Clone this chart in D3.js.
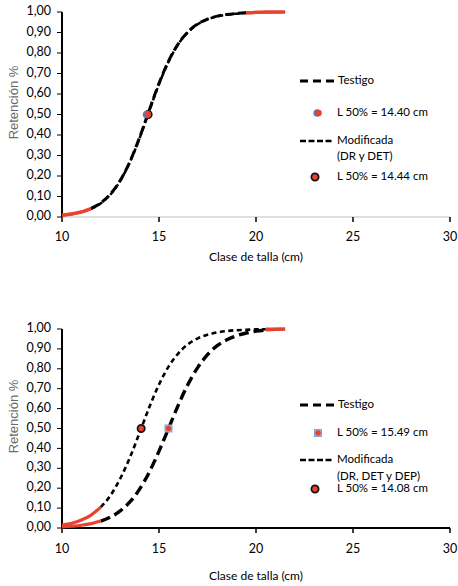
<!DOCTYPE html>
<html><head><meta charset="utf-8">
<script src="https://cdn.jsdelivr.net/npm/d3@7"></script>
<style>body{margin:0;background:#fff;} svg{display:block;font-family:Lato,"Open Sans",sans-serif;}</style>
</head><body>
<svg id="c" width="458" height="586"></svg>
<script>
// ---- data ----
const sizes = [10,10.5,11,11.5,12,12.5,13,13.5,14,14.5,15,15.5,16,16.5,17,17.5,18,18.5,19,19.5,20,20.5,21,21.5];
const xTicks = [10,15,20,25,30];
const yTicks = [0,0.1,0.2,0.3,0.4,0.5,0.6,0.7,0.8,0.9,1.0];

const topTestigo =    [0.009,0.015,0.025,0.042,0.069,0.112,0.178,0.270,0.388,0.522,0.652,0.762,0.846,0.904,0.942,0.965,0.980,0.988,0.993,0.996,0.998,0.999,0.999,1.000];
const topModificada = [0.008,0.014,0.024,0.040,0.067,0.110,0.176,0.268,0.385,0.518,0.648,0.759,0.844,0.902,0.940,0.964,0.979,0.987,0.992,0.996,0.998,0.999,1.000,1.000];
const topL50 = [14.40, 14.44];

const botTestigo =    [0.005,0.009,0.014,0.022,0.035,0.055,0.086,0.131,0.195,0.281,0.386,0.502,0.619,0.723,0.807,0.871,0.916,0.946,0.966,0.980,0.989,0.995,0.998,0.999];
const botModificada = [0.015,0.024,0.040,0.065,0.105,0.164,0.248,0.354,0.479,0.607,0.721,0.812,0.878,0.924,0.953,0.971,0.983,0.990,0.994,0.996,0.998,0.999,1.000,1.000];
const botL50 = [15.49, 14.08];

const topLegend = ["Testigo","L 50% = 14.40 cm","Modificada","(DR y DET)","L 50% = 14.44 cm"];
const botLegend = ["Testigo","L 50% = 15.49 cm","Modificada","(DR, DET y DEP)","L 50% = 14.08 cm"];

const RED = "#e8432e", BLUE = "#4f81bd";
const svg = d3.select("#c");
const x = d3.scaleLinear().domain([10,30]).range([62,450]);
const LF = 11.5;

function chart(cfg){
  const y = d3.scaleLinear().domain([0,1]).range([cfg.y0, cfg.y1]);
  const g = svg.append("g");
  // x axis
  g.append("line").attr("x1",x(10)).attr("x2",x(30)).attr("y1",y(0)).attr("y2",y(0))
    .attr("stroke",cfg.xAxisColor).attr("stroke-width",cfg.xAxisWidth);
  g.selectAll(".xt").data(xTicks).join("line").attr("x1",d=>x(d)).attr("x2",d=>x(d))
    .attr("y1",y(0)).attr("y2",y(0)+5).attr("stroke","#000").attr("stroke-width",1.5);
  g.selectAll(".xl").data(xTicks).join("text").attr("x",d=>x(d)).attr("y",cfg.tickLabelY)
    .attr("text-anchor","middle").attr("dominant-baseline","middle").attr("font-size",12.5).text(d=>d);
  g.append("text").attr("x",256).attr("y",cfg.xTitleY).attr("text-anchor","middle")
    .attr("dominant-baseline","middle").attr("font-size",12).text("Clase de talla (cm)");
  // y axis
  g.append("line").attr("x1",x(10)).attr("x2",x(10)).attr("y1",y(0)).attr("y2",y(1))
    .attr("stroke","#000").attr("stroke-width",2);
  g.selectAll(".yt").data(yTicks).join("line").attr("x1",x(10)-5).attr("x2",x(10))
    .attr("y1",d=>y(d)).attr("y2",d=>y(d)).attr("stroke","#000").attr("stroke-width",1);
  g.selectAll(".yl").data(yTicks).join("text").attr("x",51).attr("y",d=>y(d))
    .attr("text-anchor","end").attr("dominant-baseline","middle").attr("font-size",12.5)
    .text(d=>d.toFixed(2).replace(".",","));
  const yc = (cfg.y0+cfg.y1)/2 - 12;
  g.append("text").attr("transform",`translate(15,${yc}) rotate(-90)`).attr("text-anchor","middle")
    .attr("dominant-baseline","middle").attr("font-size",13).attr("fill","#6b6b6b")
    .style("font-family","'Liberation Sans',Arial,sans-serif").text("Retención %");

  const line = d3.line().x(d=>x(d[0])).y(d=>y(d[1])).curve(d3.curveMonotoneX);
  function series(vals, dash, w){
    const pts = sizes.map((s,i)=>[s,vals[i]]);
    const mid = pts.filter(p=>p[0]>=cfg.lowEnd && p[0]<=cfg.highStart);
    g.append("path").attr("d",line(mid)).attr("fill","none").attr("stroke","#000")
      .attr("stroke-width",w).attr("stroke-dasharray",dash);
    const lo = pts.filter(p=>p[0]<=cfg.lowEnd), hi = pts.filter(p=>p[0]>=cfg.highStart);
    [lo,hi].forEach(seg=>g.append("path").attr("d",line(seg)).attr("fill","none")
      .attr("stroke",RED).attr("stroke-width",3.2).attr("stroke-linecap","butt"));
  }
  series(cfg.testigo, cfg.tDash, cfg.tWidth);
  series(cfg.modif, cfg.mDash, cfg.mWidth);

  // L50 markers
  function testMarker(gg, cx, cy){
    if(cfg.square){
      gg.append("rect").attr("x",cx-3.5).attr("y",cy-3.5).attr("width",7).attr("height",7).attr("fill","#9dbde0").attr("stroke","#7ea6d3").attr("stroke-width",1);
      gg.append("circle").attr("cx",cx).attr("cy",cy).attr("r",2.8).attr("fill",RED);
    } else {
      gg.append("circle").attr("cx",cx-0.8).attr("cy",cy).attr("r",3.8).attr("fill",BLUE);
      gg.append("circle").attr("cx",cx+0.5).attr("cy",cy).attr("r",3.3).attr("fill",RED);
    }
  }
  function modMarker(gg, cx, cy){
    gg.append("circle").attr("cx",cx).attr("cy",cy).attr("r",3.6).attr("fill",RED).attr("stroke","#111").attr("stroke-width",1.8);
  }
  if(cfg.square){
    testMarker(g, x(cfg.l50[0]), y(0.5));
    modMarker(g, x(cfg.l50[1]), y(0.5));
  } else {
    modMarker(g, x(cfg.l50[1]), y(0.5));
    testMarker(g, x(cfg.l50[0]), y(0.5));
  }

  // legend
  const L = cfg.leg, t = cfg.legendText;
  g.append("line").attr("x1",300).attr("x2",337).attr("y1",L[0]).attr("y2",L[0])
    .attr("stroke","#000").attr("stroke-width",3).attr("stroke-dasharray","8,5");
  g.append("text").attr("x",338).attr("y",L[0]).attr("dominant-baseline","middle").attr("font-size",LF).text(t[0]);
  testMarker(g, 318, L[1]);
  g.append("text").attr("x",337).attr("y",L[1]).attr("dominant-baseline","middle").attr("font-size",LF).text(t[1]);
  g.append("line").attr("x1",300).attr("x2",332).attr("y1",L[2]).attr("y2",L[2])
    .attr("stroke","#000").attr("stroke-width",2.5).attr("stroke-dasharray","6,2.5");
  g.append("text").attr("x",337).attr("y",L[2]).attr("dominant-baseline","middle").attr("font-size",LF).text(t[2]);
  g.append("text").attr("x",337).attr("y",L[3]).attr("dominant-baseline","middle").attr("font-size",LF).text(t[3]);
  modMarker(g, 315, L[4]);
  g.append("text").attr("x",337).attr("y",L[4]).attr("dominant-baseline","middle").attr("font-size",LF).text(t[4]);
}

chart({y0:217,y1:12,tickLabelY:238,xTitleY:258,xAxisColor:"#bfbfbf",xAxisWidth:1.2,
  testigo:topTestigo,modif:topModificada,l50:topL50,lowEnd:11.5,highStart:19.5,
  tDash:"9,4",tWidth:3,mDash:"5,3",mWidth:2.5,square:false,
  leg:[81,113,141,157,177],legendText:topLegend});
chart({y0:528,y1:329,tickLabelY:550,xTitleY:577,xAxisColor:"#000",xAxisWidth:2,
  testigo:botTestigo,modif:botModificada,l50:botL50,lowEnd:12,highStart:20.5,
  tDash:"10,5",tWidth:3.4,mDash:"5,3.5",mWidth:2.6,square:true,
  leg:[405,433,460,477,489],legendText:botLegend});
</script>
</body></html>
